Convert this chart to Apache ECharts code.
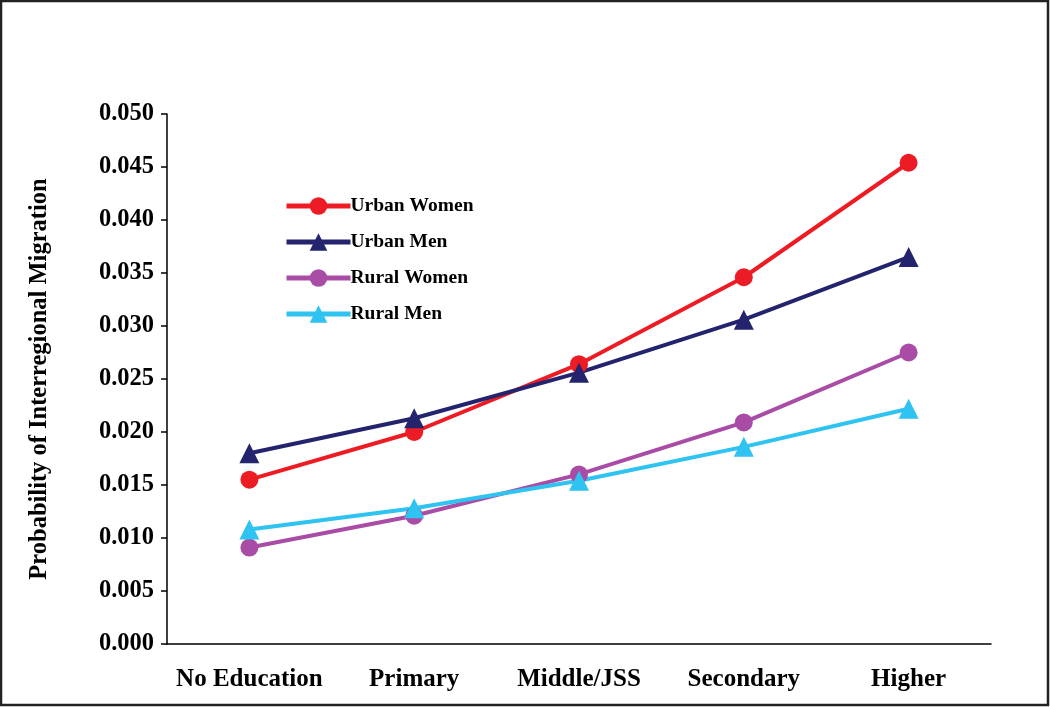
<!DOCTYPE html>
<html><head><meta charset="utf-8">
<script src="https://cdn.jsdelivr.net/npm/echarts@6/dist/echarts.min.js"></script>
<style>html,body{margin:0;padding:0;background:#fff}#c{width:1050px;height:707px}</style>
</head><body><div id="c"></div>
<script>
const categories = ["No Education","Primary","Middle/JSS","Secondary","Higher"];
const urbanWomen = [0.0155,0.0200,0.0264,0.0346,0.0454];
const urbanMen = [0.0180,0.0213,0.0256,0.0306,0.0365];
const ruralWomen = [0.0091,0.0121,0.0160,0.0209,0.0275];
const ruralMen = [0.0108,0.0128,0.0154,0.0186,0.0222];
const yTicks = {min:0, max:0.05, interval:0.005};

const font = '"Liberation Serif","Times New Roman",serif';
function s(name, data, color, symbol){
  return {name, type:'line', data, symbol, symbolSize: symbol==='circle'?18:20,
    lineStyle:{color, width:4}, itemStyle:{color}, color};
}
const chart = echarts.init(document.getElementById('c'), null, {renderer:'canvas'});
chart.setOption({
  animation:false,
  backgroundColor:'#fff',
  graphic:[{type:'rect', shape:{x:1,y:1,width:1047,height:704}, style:{fill:'none', stroke:'#222', lineWidth:2.5}}],
  grid:{left:167, right:59, top:114, bottom:63},
  legend:{orient:'vertical', left:279, top:191, itemWidth:64, itemHeight:22, itemGap:16,
    lineStyle:{width:5},
    textStyle:{fontFamily:font, fontWeight:'bold', fontSize:19.5, color:'#000', padding:[0,0,0,-5]},
    data:['Urban Women','Urban Men','Rural Women','Rural Men']},
  xAxis:{type:'category', data:categories, boundaryGap:true,
    axisLine:{lineStyle:{color:'#000', width:1.5}},
    axisTick:{length:9, lineStyle:{color:'#000', width:1.5}},
    axisLabel:{interval:0, hideOverlap:false, fontFamily:font, fontWeight:'bold', fontSize:25, color:'#000', margin:23}},
  yAxis:{type:'value', min:yTicks.min, max:yTicks.max, interval:yTicks.interval,
    name:'Probability of Interregional Migration', nameLocation:'middle', nameGap:115,
    nameTextStyle:{fontFamily:font, fontWeight:'bold', fontSize:24.5, color:'#000'},
    splitLine:{show:false},
    axisLine:{show:true, lineStyle:{color:'#000', width:1.5}},
    axisTick:{show:true, length:6, lineStyle:{color:'#000', width:1.5}},
    axisLabel:{fontFamily:font, fontWeight:'bold', fontSize:24.5, color:'#000', margin:13,
      formatter:v=>v.toFixed(3)}},
  series:[
    s('Urban Women', urbanWomen, '#ED1C24', 'circle'),
    s('Urban Men', urbanMen, '#23236E', 'triangle'),
    s('Rural Women', ruralWomen, '#A94CA6', 'circle'),
    s('Rural Men', ruralMen, '#2EC3F0', 'triangle')
  ]
});
</script></body></html>
